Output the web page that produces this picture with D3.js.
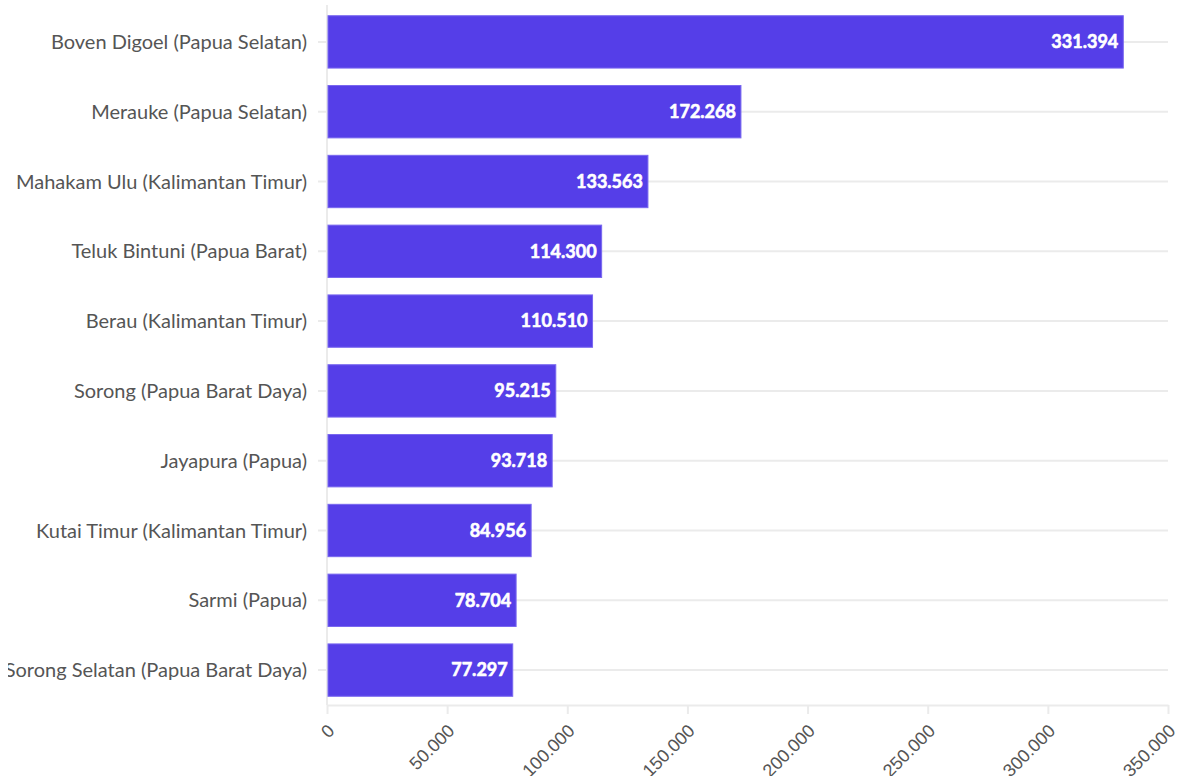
<!DOCTYPE html>
<html>
<head>
<meta charset="utf-8">
<script src="https://cdn.jsdelivr.net/npm/d3@7"></script>
<style>
  body { margin: 0; background: #fff; font-family: "Source Sans Pro", Lato, "Noto Sans", sans-serif; }
  #chart { position: absolute; left: 8px; top: 0; overflow: hidden; }
</style>
</head>
<body>
<svg id="chart"></svg>
<script>
// data
const a_regions = [
  "Boven Digoel (Papua Selatan)",
  "Merauke (Papua Selatan)",
  "Mahakam Ulu (Kalimantan Timur)",
  "Teluk Bintuni (Papua Barat)",
  "Berau (Kalimantan Timur)",
  "Sorong (Papua Barat Daya)",
  "Jayapura (Papua)",
  "Kutai Timur (Kalimantan Timur)",
  "Sarmi (Papua)",
  "Sorong Selatan (Papua Barat Daya)"
];
const a_values = [331394, 172268, 133563, 114300, 110510, 95215, 93718, 84956, 78704, 77297];
const a_ticks = [0, 50000, 100000, 150000, 200000, 250000, 300000, 350000];

const v_width = 1170, v_height = 776;
const d_margin = {top: 7, right: 10, bottom: 71, left: 319};

const svg = d3.select("#chart")
    .attr("width", v_width)
    .attr("height", v_height);

const x = d3.scaleLinear().domain([0, 350000]).range([d_margin.left, v_width - d_margin.right]);
const y = d3.scaleBand().domain(a_regions)
    .range([d_margin.top, v_height - d_margin.bottom])
    .paddingInner(0.25).paddingOuter(0.125);

// id-ID style number: 331.394
const fmt = v => d3.format(",")(v).replace(/,/g, ".");

// grid lines
svg.append("g")
    .selectAll("line")
    .data(a_regions)
    .join("line")
    .attr("x1", x(0) - 9)
    .attr("x2", x(350000))
    .attr("y1", d => y(d) + y.bandwidth() / 2)
    .attr("y2", d => y(d) + y.bandwidth() / 2)
    .attr("stroke", "#ebebeb")
    .attr("stroke-width", 2);

// x axis
const x_axis = d3.axisBottom(x).tickValues(a_ticks).tickSize(9).tickSizeOuter(0)
    .tickFormat(d => d === 0 ? "0" : fmt(d));
const gx = svg.append("g")
    .attr("transform", `translate(0, ${v_height - d_margin.bottom})`)
    .call(x_axis);
gx.select(".domain").attr("stroke", "#ebebeb").attr("stroke-width", 2);
gx.selectAll(".tick line").attr("stroke", "#ebebeb").attr("stroke-width", 2);
gx.selectAll(".tick text")
    .attr("fill", "#555")
    .style("font-size", "18px")
    .attr("text-anchor", "end")
    .attr("y", 0)
    .attr("dy", 0)
    .attr("transform", "translate(8, 27) rotate(-45)");

// y axis line
svg.append("line")
    .attr("x1", x(0)).attr("x2", x(0))
    .attr("y1", 5).attr("y2", v_height - d_margin.bottom)
    .attr("stroke", "#ebebeb").attr("stroke-width", 2);

// y labels
svg.append("g")
    .selectAll("text")
    .data(a_regions)
    .join("text")
    .attr("x", x(0) - 20)
    .attr("y", d => y(d) + y.bandwidth() / 2)
    .attr("dy", "0.35em")
    .attr("text-anchor", "end")
    .attr("fill", "#555")
    .style("font-size", "20px")
    .text(d => d);

// bars
svg.append("g")
    .selectAll("rect")
    .data(a_values)
    .join("rect")
    .attr("x", x(0) + 1)
    .attr("y", (d, i) => y(a_regions[i]))
    .attr("width", d => x(d) - x(0) - 1)
    .attr("height", y.bandwidth())
    .attr("fill", "#553ee8")
    .attr("stroke", "#7867ef")
    .attr("stroke-width", 1);

// value labels
svg.append("g")
    .selectAll("text")
    .data(a_values)
    .join("text")
    .attr("x", d => x(d) - 5)
    .attr("y", (d, i) => y(a_regions[i]) + y.bandwidth() / 2)
    .attr("dy", "0.35em")
    .attr("text-anchor", "end")
    .attr("fill", "#fff")
    .attr("stroke", "#fff")
    .attr("stroke-width", 0.6)
    .style("font-size", "18px")
    .style("font-weight", "bold")
    .text(d => fmt(d));
</script>
</body>
</html>
